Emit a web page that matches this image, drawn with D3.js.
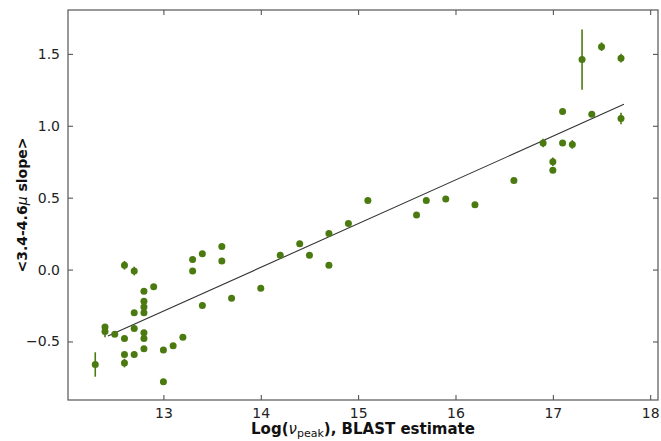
<!DOCTYPE html>
<html><head><meta charset="utf-8">
<script src="https://cdn.jsdelivr.net/npm/d3@7"></script>
<style>body{margin:0;background:#fff}svg{display:block}</style>
</head><body>
<script>
const xVals = [12.3,12.4,12.4,12.5,12.6,12.6,12.6,12.6,12.7,12.7,12.7,12.7,12.8,12.8,12.8,12.8,12.8,12.8,12.8,12.9,13.0,13.0,13.1,13.2,13.3,13.3,13.4,13.4,13.6,13.6,13.7,14.0,14.2,14.4,14.5,14.7,14.7,14.9,15.1,15.6,15.7,15.9,16.2,16.6,16.9,17.0,17.0,17.1,17.1,17.2,17.3,17.4,17.5,17.7,17.7];
const yVals = [-0.66,-0.40,-0.43,-0.45,0.03,-0.48,-0.59,-0.65,-0.01,-0.30,-0.41,-0.59,-0.15,-0.22,-0.26,-0.30,-0.44,-0.48,-0.55,-0.12,-0.56,-0.78,-0.53,-0.47,0.07,-0.01,0.11,-0.25,0.16,0.06,-0.20,-0.13,0.10,0.18,0.10,0.25,0.03,0.32,0.48,0.38,0.48,0.49,0.45,0.62,0.88,0.75,0.69,1.10,0.88,0.87,1.46,1.08,1.55,1.47,1.05];
const yErrs = [0.085,0,0.04,0,0.03,0,0,0.03,0.03,0,0,0,0,0,0,0,0,0,0,0,0,0,0,0,0,0,0,0,0,0,0,0,0,0,0,0,0,0,0,0,0,0,0,0,0.03,0.03,0,0,0,0.03,0.21,0,0.03,0.03,0.04];
const fitX = [12.43,17.73];
const fitY = [-0.462,1.149];
const xTicks = [13,14,15,16,17,18];
const yTicks = [-0.5,0.0,0.5,1.0,1.5];

const W=661,H=441;
const L=68,R=658,T=10,B=400;
const svg=d3.select("body").append("svg").attr("width",W).attr("height",H);
const x=d3.scaleLinear().domain([12.02,18.08]).range([L,R]);
const y=d3.scaleLinear().domain([-0.907,1.805]).range([B,T]);
const col="#4b7b10";
const fmt=v=>(v<0?"\u2212":"")+Math.abs(v).toFixed(1);

// fit line
svg.append("line").attr("x1",x(fitX[0])).attr("y1",y(fitY[0])).attr("x2",x(fitX[1])).attr("y2",y(fitY[1]))
  .attr("stroke","#333").attr("stroke-width",1.1);

const pts=xVals.map((v,i)=>({x:v,y:yVals[i],e:yErrs[i]}));
svg.append("g").selectAll("line").data(pts.filter(d=>d.e>0)).join("line")
  .attr("x1",d=>x(d.x)).attr("x2",d=>x(d.x)).attr("y1",d=>y(d.y-d.e)).attr("y2",d=>y(d.y+d.e))
  .attr("stroke",col).attr("stroke-width",1.6);
svg.append("g").selectAll("circle").data(pts).join("circle")
  .attr("cx",d=>x(d.x)).attr("cy",d=>y(d.y)).attr("r",3.5).attr("fill",col);

// axes
const axStyle=g=>{g.select(".domain").remove();g.selectAll("line").attr("stroke","#444");
  g.selectAll("text").attr("font-family","DejaVu Sans").attr("font-size",14).attr("fill","#222");};
svg.append("g").attr("transform",`translate(0,${B})`).call(d3.axisBottom(x).tickValues(xTicks).tickFormat(d3.format("d")).tickSizeInner(-5).tickPadding(8)).call(axStyle);
svg.append("g").attr("transform",`translate(0,${T})`).call(d3.axisTop(x).tickValues(xTicks).tickFormat("").tickSizeInner(-5)).call(axStyle);
svg.append("g").attr("transform",`translate(${L},0)`).call(d3.axisLeft(y).tickValues(yTicks).tickFormat(fmt).tickSizeInner(-5).tickPadding(8)).call(axStyle);
svg.append("g").attr("transform",`translate(${R},0)`).call(d3.axisRight(y).tickValues(yTicks).tickFormat("").tickSizeInner(-5)).call(axStyle);
svg.append("rect").attr("x",L).attr("y",T).attr("width",R-L).attr("height",B-T).attr("fill","none").attr("stroke","#555").attr("stroke-width",1.2);

// labels
const xl=svg.append("text").attr("x",(L+R)/2).attr("y",434).attr("text-anchor","middle")
  .attr("font-family","DejaVu Sans").attr("font-size",15).attr("font-weight","bold").attr("fill","#111");
xl.append("tspan").text("Log(");
xl.append("tspan").attr("font-style","italic").attr("font-weight","normal").text("\u03bd");
xl.append("tspan").attr("font-weight","normal").attr("font-size",11).attr("dy",3).text("peak");
xl.append("tspan").attr("dy",-3).text("), BLAST estimate");
const yl=svg.append("text").attr("transform",`translate(27,${(T+B)/2}) rotate(-90)`).attr("text-anchor","middle")
  .attr("font-family","DejaVu Sans").attr("font-size",14).attr("font-weight","bold").attr("fill","#111");
yl.append("tspan").text("<3.4-4.6");
yl.append("tspan").attr("font-style","italic").attr("font-weight","normal").text("\u03bc");
yl.append("tspan").text(" slope>");
</script>
</body></html>
